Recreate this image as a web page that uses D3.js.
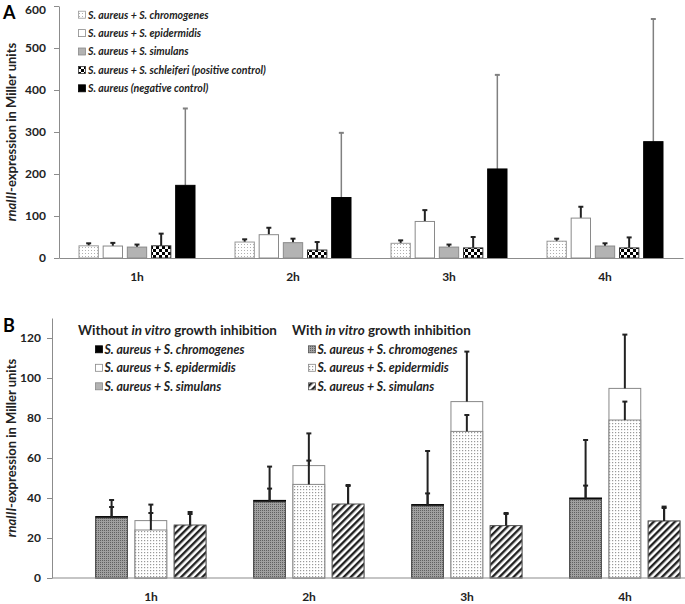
<!DOCTYPE html>
<html><head><meta charset="utf-8">
<script src="https://cdn.jsdelivr.net/npm/d3@7"></script>
<style>
body{margin:0;background:#fff;}
text{font-family:Lato, "Open Sans", sans-serif;}
</style></head>
<body><svg id="c" width="685" height="604"></svg>
<script>
// ---------- DATA ----------
const hours = ["1h", "2h", "3h", "4h"];

// Panel A
const seriesA = ["S. aureus + S. chromogenes", "S. aureus + S. epidermidis", "S. aureus + S. simulans",
  "S. aureus + S. schleiferi (positive control)", "S. aureus (negative control)"];
const chromA = [29, 38, 35, 40],      chromA_sd = [6, 6.5, 7, 6];
const epiA   = [28.5, 55.5, 87, 95],  epiA_sd   = [7.5, 16.5, 27, 27];
const simA   = [26, 36.5, 26, 28.5],  simA_sd   = [6, 9.5, 6, 6.5];
const schA   = [29, 19, 24, 24],      schA_sd   = [29, 19, 26, 25];
const negA   = [173, 144, 212, 277],  negA_sd   = [183, 154, 224, 292];
const ticksA = [0, 100, 200, 300, 400, 500, 600];

// Panel B
const seriesB = ["S. aureus + S. chromogenes", "S. aureus + S. epidermidis", "S. aureus + S. simulans"];
const withoutChrom = [30.7, 38.8, 36.7, 40],  withoutChrom_sd = [4.8, 5.9, 5.6, 6.2];
const withChrom    = [30, 38, 36, 39.3],      withChrom_sd    = [9, 17.7, 27.5, 29.7];
const withoutEpi   = [28.7, 56.2, 88.2, 94.8], withoutEpi_sd  = [8, 16.1, 25, 26.9];
const withEpi      = [24, 46.8, 73.3, 79],    withEpi_sd      = [8.5, 11.9, 8.2, 9.2];
const withoutSim   = [26, 36.5, 26, 28.5],    withoutSim_sd   = [6, 9.5, 6, 6.5];
const withSim      = [26.5, 37, 26.2, 28.5],  withSim_sd      = [6.5, 9.5, 6.3, 7.2];
const ticksB = [0, 20, 40, 60, 80, 100, 120];
const legendHeadB = [["Without ", "in vitro", " growth inhibition"], ["With ", "in vitro", " growth inhibition"]];

// ---------- SETUP ----------
const svg = d3.select("#c");
const defs = svg.append("defs");
function pat(id, w, h, bg, draw) {
  const p = defs.append("pattern").attr("id", id).attr("patternUnits", "userSpaceOnUse")
    .attr("width", w).attr("height", h);
  p.append("rect").attr("width", w).attr("height", h).attr("fill", bg);
  draw(p);
}
pat("dotLight", 3, 3, "#fff", p => p.append("rect").attr("x", 1).attr("y", 1).attr("width", 1).attr("height", 1).attr("fill", "#b0b0b0"));
pat("checker", 6, 6, "#fff", p => {
  p.append("rect").attr("x", 0).attr("y", 0).attr("width", 3).attr("height", 3).attr("fill", "#000");
  p.append("rect").attr("x", 3).attr("y", 3).attr("width", 3).attr("height", 3).attr("fill", "#000");
});
pat("dotDark", 2, 2, "#a0a0a0", p => p.append("rect").attr("width", 1).attr("height", 1).attr("fill", "#606060"));
pat("dotB", 3, 3, "#fff", p => {
  p.append("rect").attr("x", 0).attr("y", 0).attr("width", 1.2).attr("height", 1.2).attr("fill", "#999");
});
pat("hatch", 5, 5, "#fff", p => {
  p.attr("patternTransform", "rotate(45)");
  p.append("rect").attr("x", 0).attr("y", 0).attr("width", 2.4).attr("height", 5).attr("fill", "#222");
});

const axisCol = "#8c8c8c";

function yLabel(x, y) {
  const t = svg.append("text").attr("transform", `translate(${x},${y}) rotate(-90)`)
    .attr("text-anchor", "middle").attr("font-size", 13).attr("font-weight", "bold").attr("fill", "#222");
  t.append("tspan").attr("font-style", "italic").text("rnaIII");
  t.append("tspan").text("-expression in Miller units");
}

function errBar(g, x, y0, y1, col, w) {
  g.append("line").attr("x1", x).attr("x2", x).attr("y1", y0).attr("y2", y1).attr("stroke", col).attr("stroke-width", w);
  g.append("line").attr("x1", x - 2.5).attr("x2", x + 2.5).attr("y1", y1).attr("y2", y1).attr("stroke", col).attr("stroke-width", 2);
}

// ---------- PANEL A ----------
{
  const x = d3.scaleBand().domain(hours).range([59, 683]);
  const xi = d3.scaleBand().domain(d3.range(5)).range([20, 136]).paddingInner(0.2);
  const y = d3.scaleLinear().domain([0, 600]).range([258, 6]);
  const vals = [chromA, epiA, simA, schA, negA];
  const sds = [chromA_sd, epiA_sd, simA_sd, schA_sd, negA_sd];
  const fills = ["url(#dotLight)", "#fff", "#b3b3b3", "url(#checker)", "#000"];
  const strokes = ["#9a9a9a", "#8a8a8a", "#8a8a8a", "#333", "#000"];
  const errCol = ["#222", "#222", "#222", "#222", "#808080"];

  const ya = svg.append("g").attr("transform", "translate(59,0)")
    .call(d3.axisLeft(y).tickValues(ticksA).tickSize(5).tickSizeOuter(0).tickPadding(8));
  ya.select(".domain").attr("stroke", axisCol);
  ya.selectAll(".tick line").attr("stroke", axisCol);
  ya.selectAll(".tick text").attr("font-size", 12).attr("font-weight", "bold").attr("fill", "#222").attr("font-family", "Lato")
    .attr("dy", d => d === 600 ? "0.6em" : "0.32em");

  const g = svg.append("g");
  hours.forEach((h, i) => {
    vals.forEach((v, s) => {
      const bx = x(h) + xi(s);
      errBar(g, bx + xi.bandwidth() / 2, y(v[i]), y(v[i] + sds[s][i]), errCol[s], s === 4 ? 1.5 : 2);
    });
    vals.forEach((v, s) => {
      const bx = x(h) + xi(s);
      g.append("rect").attr("x", bx).attr("y", y(v[i])).attr("width", xi.bandwidth()).attr("height", y(0) - y(v[i]))
        .attr("fill", fills[s]).attr("stroke", strokes[s]).attr("stroke-width", 1);
    });
  });

  const xa = svg.append("g").attr("transform", "translate(0,258)")
    .call(d3.axisBottom(x).tickSize(0).tickPadding(14).tickSizeOuter(0));
  xa.select(".domain").attr("stroke", axisCol).attr("stroke-width", 1.2);
  xa.selectAll(".tick text").attr("font-size", 12).attr("font-weight", "bold").attr("fill", "#222").attr("font-family", "Lato");

  // legend
  const lg = svg.append("g");
  seriesA.forEach((s, k) => {
    const yy = 14.7 + k * 18.4;
    lg.append("rect").attr("x", 78.5).attr("y", yy - 3.5).attr("width", 7).attr("height", 7)
      .attr("fill", fills[k]).attr("stroke", strokes[k]).attr("stroke-width", 0.8);
    lg.append("text").attr("x", 88).attr("y", yy + 3.8).attr("font-size", 10.6).attr("font-weight", "bold")
      .attr("font-style", "italic").attr("fill", "#222").text(s);
  });

  yLabel(16, 132);
  svg.append("text").attr("x", 3).attr("y", 19).attr("font-family", "Liberation Serif, Times New Roman, serif")
    .attr("font-size", 18).attr("font-weight", "bold").text("A");
}

// ---------- PANEL B ----------
{
  const x = d3.scaleBand().domain(hours).range([72, 704]);
  const xi = d3.scaleBand().domain(d3.range(3)).range([23.7, 134]).paddingInner(0.19);
  const y = d3.scaleLinear().domain([0, 130]).range([578, 318]);
  const without = [withoutChrom, withoutEpi, withoutSim];
  const withoutSd = [withoutChrom_sd, withoutEpi_sd, withoutSim_sd];
  const withV = [withChrom, withEpi, withSim];
  const withSd = [withChrom_sd, withEpi_sd, withSim_sd];
  const fillsWo = ["#000", "#fff", "#b3b3b3"];
  const fillsW = ["url(#dotDark)", "url(#dotB)", "url(#hatch)"];
  const strokeW = ["#555", "#888", "#555"];

  const ya = svg.append("g").attr("transform", "translate(52,0)")
    .call(d3.axisLeft(y).tickValues(ticksB).tickSize(5).tickSizeOuter(0).tickPadding(6));
  ya.select(".domain").attr("stroke", axisCol);
  ya.selectAll(".tick line").attr("stroke", axisCol);
  ya.selectAll(".tick text").attr("font-size", 12).attr("font-weight", "bold").attr("fill", "#222").attr("font-family", "Lato");

  const g = svg.append("g");
  hours.forEach((h, i) => {
    [0, 1, 2].forEach(s => {
      const bx = x(h) + xi(s), bw = xi.bandwidth(), cx = bx + bw / 2;
      // bar without inhibition (behind)
      g.append("rect").attr("x", bx).attr("y", y(without[s][i])).attr("width", bw).attr("height", y(0) - y(without[s][i]))
        .attr("fill", fillsWo[s]).attr("stroke", s === 0 ? "#000" : "#888").attr("stroke-width", 1);
      errBar(g, cx, y(without[s][i]), y(without[s][i] + withoutSd[s][i]), "#222", 2);
      // bar with inhibition (front)
      g.append("rect").attr("x", bx).attr("y", y(withV[s][i])).attr("width", bw).attr("height", y(0) - y(withV[s][i]))
        .attr("fill", fillsW[s]).attr("stroke", strokeW[s]).attr("stroke-width", 1);
      errBar(g, cx, y(withV[s][i]), y(withV[s][i] + withSd[s][i]), "#222", 2);
    });
  });

  svg.append("line").attr("x1", 52).attr("x2", 685).attr("y1", 578).attr("y2", 578).attr("stroke", axisCol).attr("stroke-width", 1.2);
  const xa = svg.append("g").attr("transform", "translate(0,578)")
    .call(d3.axisBottom(x).tickSize(0).tickPadding(14));
  xa.select(".domain").remove();
  xa.selectAll(".tick text").attr("font-size", 12).attr("font-weight", "bold").attr("fill", "#222").attr("font-family", "Lato");

  // legend
  const lg = svg.append("g");
  const heads = [[78, 95.5], [292, 308.5]];
  legendHeadB.forEach((parts, c) => {
    const t = lg.append("text").attr("x", heads[c][0]).attr("y", 335).attr("font-size", 13.4).attr("font-weight", "bold").attr("fill", "#222");
    t.append("tspan").text(parts[0]);
    t.append("tspan").attr("font-style", "italic").text(parts[1]);
    t.append("tspan").text(parts[2]);
    seriesB.forEach((s, k) => {
      const yy = 349.3 + k * 18.5;
      lg.append("rect").attr("x", heads[c][1]).attr("y", yy - 3.5).attr("width", 7).attr("height", 7)
        .attr("fill", c === 0 ? fillsWo[k] : fillsW[k]).attr("stroke", c === 0 ? (k === 0 ? "#000" : "#888") : strokeW[k]).attr("stroke-width", 0.8);
      lg.append("text").attr("x", heads[c][1] + 9).attr("y", yy + 4.2).attr("font-size", 12.3).attr("font-weight", "bold")
        .attr("font-style", "italic").attr("fill", "#222").text(s);
    });
  });

  yLabel(16, 448);
  svg.append("text").attr("x", 3).attr("y", 332).attr("font-family", "Liberation Serif, Times New Roman, serif")
    .attr("font-size", 18).attr("font-weight", "bold").text("B");
}
</script></body></html>
